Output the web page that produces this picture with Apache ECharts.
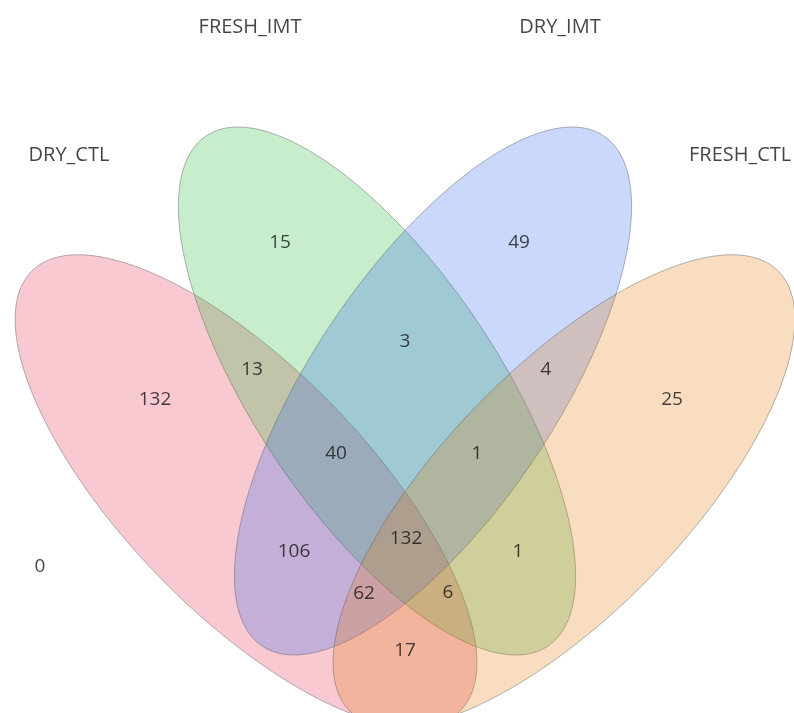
<!DOCTYPE html>
<html>
<head>
<meta charset="utf-8">
<script src="https://cdn.jsdelivr.net/npm/echarts@6/dist/echarts.min.js"></script>
<style>
html, body { margin: 0; padding: 0; background: #fff; }
#venn { width: 794px; height: 713px; }
</style>
</head>
<body>
<div id="venn"></div>
<script>
// sets, in drawing order
var setNames = ['DRY_CTL', 'FRESH_IMT', 'DRY_IMT', 'FRESH_CTL'];
var setColors = ['rgba(231,39,71,0.25)', 'rgba(31,184,51,0.25)', 'rgba(39,99,239,0.25)', 'rgba(227,119,7,0.25)'];

// region names and counts (P=DRY_CTL, G=FRESH_IMT, B=DRY_IMT, O=FRESH_CTL)
var regionNames = ['P', 'G', 'B', 'O', 'PG', 'BO', 'GB', 'PGB', 'GBO', 'PB', 'GO', 'PGBO', 'PBO', 'PGO', 'PO', 'none'];
var regionCounts = [132, 15, 49, 25, 13, 4, 3, 40, 1, 106, 1, 132, 62, 6, 17, 0];

// layout (pixel space of the 794x713 canvas)
var ellipses = [
    {cx: 246, cy: 491, a: 307, b: 122, rot: 45.9},
    {cx: 377, cy: 391, a: 307, b: 122, rot: 56.2},
    {cx: 433, cy: 391, a: 307, b: 122, rot: -56.2},
    {cx: 564, cy: 491, a: 307, b: 122, rot: -45.9}
];
var regionPos = [
    [155, 400], [280, 243], [519, 243], [672, 400], [252, 370], [546, 370],
    [405, 342], [336, 454], [477, 454], [294, 552], [518, 552], [406, 539],
    [364, 594], [448, 593], [405, 651], [40, 567]
];
var setLabelPos = [[69, 155, 'center'], [250, 27, 'center'], [560, 27, 'center'], [689, 155, 'left']];

var dom = document.getElementById('venn');
var myChart = echarts.init(dom);

var option = {
    animation: false,
    grid: {left: 0, right: 0, top: 0, bottom: 0},
    xAxis: {type: 'value', min: 0, max: 794, show: false},
    yAxis: {type: 'value', min: 0, max: 713, inverse: true, show: false},
    series: [
        {
            type: 'custom',
            silent: true,
            data: setNames.map(function (n, i) { return {name: n, value: [i, i]}; }),
            renderItem: function (params, api) {
                var i = api.value(0);
                var e = ellipses[i];
                var r = e.rot * Math.PI / 180;
                var pts = [];
                for (var k = 0; k < 240; k++) {
                    var t = 2 * Math.PI * k / 240;
                    var x = e.cx + e.a * Math.cos(t) * Math.cos(r) - e.b * Math.sin(t) * Math.sin(r);
                    var y = e.cy + e.a * Math.cos(t) * Math.sin(r) + e.b * Math.sin(t) * Math.cos(r);
                    pts.push(api.coord([x, y]));
                }
                return {
                    type: 'polygon',
                    shape: {points: pts},
                    style: {fill: setColors[i], stroke: 'rgba(90,90,90,0.45)', lineWidth: 1}
                };
            }
        },
        {
            type: 'scatter',
            silent: true,
            symbolSize: 1,
            itemStyle: {color: 'rgba(0,0,0,0)'},
            data: regionCounts.map(function (c, i) {
                return {name: regionNames[i], value: [regionPos[i][0], regionPos[i][1], c]};
            }),
            label: {
                show: true,
                position: 'inside',
                formatter: function (p) { return String(p.value[2]); },
                fontFamily: 'Open Sans',
                fontSize: 19,
                color: '#151515'
            }
        },
        {
            type: 'scatter',
            silent: true,
            symbolSize: 1,
            itemStyle: {color: 'rgba(0,0,0,0)'},
            data: setNames.map(function (n, i) {
                return {
                    name: n,
                    value: [setLabelPos[i][0], setLabelPos[i][1]],
                    label: {align: setLabelPos[i][2]}
                };
            }),
            label: {
                show: true,
                position: 'inside',
                formatter: '{b}',
                fontFamily: 'Open Sans',
                fontSize: 20,
                color: '#151515'
            }
        }
    ]
};
myChart.setOption(option, true);

window.onresize = function () {
    myChart.resize();
};
</script>
</body>
</html>
